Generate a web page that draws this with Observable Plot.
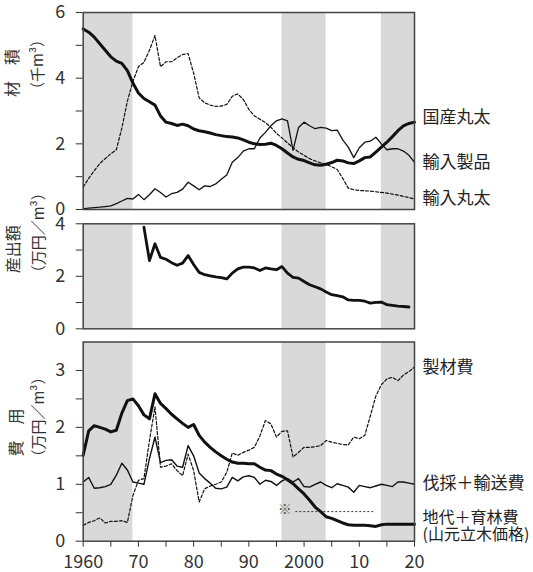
<!DOCTYPE html>
<html>
<head>
<meta charset="utf-8">
<script src="https://cdn.jsdelivr.net/npm/d3@7"></script>
<script src="https://cdn.jsdelivr.net/npm/@observablehq/plot@0.6"></script>
<style>
  body { margin: 0; background: #fff; }
  #chart { position: relative; width: 533px; height: 572px; background: #fff; }
  #chart svg { position: absolute; left: 0; }
</style>
</head>
<body>
<div id="chart"></div>
<script>
// Years 1960–2020
const years = d3.range(1960, 2021);

// 材積 (千m³): 国産丸太, 輸入丸太, 輸入製品
const domesticLogs = [
  5.50, 5.40, 5.25, 5.05, 4.85, 4.65, 4.52, 4.45, 4.23, 3.85,
  3.55, 3.38, 3.28, 3.18, 2.85, 2.66, 2.62, 2.56, 2.60, 2.55,
  2.45, 2.40, 2.37, 2.33, 2.28, 2.25, 2.22, 2.21, 2.18, 2.12,
  2.05, 2.00, 1.98, 1.99, 2.02, 1.95, 1.85, 1.72, 1.60, 1.53,
  1.49, 1.42, 1.36, 1.35, 1.38, 1.43, 1.50, 1.48, 1.42, 1.40,
  1.48, 1.58, 1.60, 1.75, 1.90, 2.05, 2.22, 2.40, 2.55, 2.62,
  2.66
];
const importedLogs = [
  0.68, 0.95, 1.18, 1.40, 1.55, 1.70, 1.82, 2.48, 3.30, 3.90,
  4.35, 4.48, 4.85, 5.30, 4.35, 4.50, 4.50, 4.62, 4.72, 4.75,
  4.15, 3.40, 3.25, 3.18, 3.14, 3.15, 3.20, 3.45, 3.52, 3.35,
  3.05, 2.85, 2.75, 2.65, 2.50, 2.32, 2.18, 2.03, 1.88, 1.75,
  1.65, 1.55, 1.48, 1.42, 1.38, 1.30, 1.22, 0.95, 0.65, 0.60,
  0.58, 0.57, 0.56, 0.54, 0.52, 0.50, 0.47, 0.44, 0.40, 0.36,
  0.32
];
const importedProducts = [
  0.02, 0.04, 0.06, 0.07, 0.09, 0.11, 0.18, 0.26, 0.34, 0.32,
  0.46, 0.30, 0.45, 0.63, 0.52, 0.38, 0.48, 0.52, 0.62, 0.83,
  0.72, 0.60, 0.72, 0.70, 0.78, 0.92, 1.05, 1.44, 1.58, 1.78,
  1.85, 1.85, 2.18, 2.35, 2.55, 2.70, 2.76, 2.70, 1.80, 2.50,
  2.66, 2.55, 2.46, 2.50, 2.48, 2.40, 2.42, 2.12, 1.90, 1.58,
  1.88, 2.05, 2.08, 2.20, 2.00, 1.82, 1.85, 1.85, 1.78, 1.65,
  1.44
];

// 産出額 (万円/m³), 1971–2019
const outputYears = d3.range(1971, 2020);
const outputValue = [
  3.87, 2.60, 3.24, 2.72, 2.65, 2.52, 2.42, 2.50, 2.79,
  2.45, 2.15, 2.06, 2.02, 1.98, 1.95, 1.90, 2.12, 2.28, 2.35,
  2.35, 2.32, 2.22, 2.32, 2.28, 2.25, 2.37, 2.12, 1.96, 1.93,
  1.80, 1.68, 1.60, 1.52, 1.40, 1.30, 1.26, 1.22, 1.10, 1.08,
  1.08, 1.05, 0.98, 1.01, 1.02, 0.92, 0.89, 0.86, 0.85, 0.83
];

// 費用 (万円/m³): 製材費, 伐採＋輸送費, 地代＋育林費
const sawingCost = [
  0.28, 0.33, 0.36, 0.41, 0.32, 0.35, 0.35, 0.36, 0.33, 0.80,
  1.07, 1.10, 1.77, 2.36, 1.30, 1.32, 1.36, 1.24, 1.15, 1.53,
  1.24, 0.69, 0.92, 0.97, 1.00, 1.04, 1.21, 1.55, 1.51, 1.56,
  1.60, 1.65, 1.85, 2.12, 2.06, 1.83, 1.93, 1.94, 1.48, 1.56,
  1.65, 1.65, 1.66, 1.68, 1.77, 1.74, 1.72, 1.70, 1.69, 1.83,
  1.80, 1.86, 2.20, 2.55, 2.75, 2.85, 2.88, 2.82, 2.92, 2.98,
  3.06
];
const loggingCost = [
  1.04, 1.12, 0.93, 0.94, 0.96, 1.00, 1.16, 1.37, 1.25, 1.04,
  1.02, 1.00, 1.45, 1.83, 1.38, 1.42, 1.43, 1.32, 1.30, 1.68,
  1.50, 1.20, 1.10, 1.02, 0.93, 0.92, 0.95, 1.12, 1.06, 1.13,
  1.15, 1.12, 1.00, 1.07, 1.05, 0.98, 1.06, 1.10, 1.04, 1.10,
  0.96, 0.95, 1.00, 1.04, 0.98, 0.94, 1.01, 0.98, 0.95, 0.86,
  0.98, 0.96, 0.94, 0.97, 1.00, 0.98, 0.96, 1.04, 1.04, 1.02,
  1.00
];
const stumpageCost = [
  1.51, 1.94, 2.03, 2.00, 1.97, 1.92, 1.95, 2.25, 2.47, 2.50,
  2.38, 2.22, 2.15, 2.59, 2.42, 2.33, 2.23, 2.15, 2.07, 2.00,
  2.05, 1.86, 1.74, 1.65, 1.57, 1.50, 1.44, 1.39, 1.37, 1.37,
  1.36, 1.36, 1.30, 1.25, 1.24, 1.18, 1.14, 1.08, 1.01, 0.92,
  0.83, 0.72, 0.60, 0.52, 0.43, 0.40, 0.36, 0.32, 0.29, 0.28,
  0.28, 0.28, 0.27, 0.26, 0.29, 0.30, 0.30, 0.30, 0.30, 0.30,
  0.30
];

// ※ reference level and its span
const noteSpan = [1998.5, 2012.6];
const noteValue = 0.52;

// Shaded periods
const bandStart = [1960, 1996, 2014];
const bandEnd = [1969, 2004, 2020];

// Axis ticks
const xTicks = d3.range(1960, 2021, 5);
const xLabelYears = [1960, 1970, 1980, 1990, 2000, 2010, 2020];
const xLabelText = ["1960", "70", "80", "90", "2000", "10", "20"];

const rows = years.map((year, i) => ({
  year,
  domesticLogs: domesticLogs[i],
  importedLogs: importedLogs[i],
  importedProducts: importedProducts[i],
  sawingCost: sawingCost[i],
  loggingCost: loggingCost[i],
  stumpageCost: stumpageCost[i]
}));
const outputRows = outputYears.map((year, i) => ({year, value: outputValue[i]}));
const bands = bandStart.map((s, i) => ({start: s, end: bandEnd[i]}));
const note = [{x1: noteSpan[0], x2: noteSpan[1], y: noteValue}];

const FONT = "'Noto Sans CJK JP', 'Noto Sans', sans-serif";
const INK = "#111";
const chart = document.getElementById("chart");

function xScale(showAxis) {
  const x = {domain: [1960, 2020], label: null};
  if (!showAxis) return {...x, axis: null};
  return {
    ...x,
    ticks: xTicks,
    tickSize: 6,
    tickPadding: 8,
    tickFormat: d => {
      const k = xLabelYears.indexOf(d);
      return k >= 0 ? xLabelText[k] : "";
    }
  };
}

function yScale(domain, ticks, labeled) {
  return {
    domain,
    ticks,
    tickSize: 7,
    tickPadding: 11,
    label: null,
    tickFormat: d => (labeled.includes(d) ? String(d) : "")
  };
}

function bandMark(domain) {
  return Plot.rect(bands, {
    x1: "start", x2: "end",
    y1: () => domain[0], y2: () => domain[1],
    fill: "#d9d9d9"
  });
}

function titleMarks(lines) {
  return lines.map(t => Plot.text([t.text], {
    frameAnchor: "left", rotate: -90,
    dx: t.dx, dy: t.dy, fontSize: t.size, fill: "#333"
  }));
}

function endLabel(data, key, text, dy, size = 17) {
  return Plot.text(data, Plot.selectLast({
    x: "year", y: key, text: () => text,
    textAnchor: "start", dx: 8, dy, fontSize: size, fill: "#222"
  }));
}

function place(svg, top) {
  svg.style.top = top + "px";
  chart.appendChild(svg);
}

const baseStyle = {fontFamily: FONT, fontSize: "18px", color: "#333", background: "transparent", overflow: "visible"};

// Panel 1: 材積
const d1 = [0, 6];
place(Plot.plot({
  width: 533, height: 215,
  marginLeft: 82.7, marginRight: 119, marginTop: 12, marginBottom: 6,
  style: baseStyle,
  x: xScale(false),
  y: yScale(d1, [0, 1, 2, 3, 4, 5, 6], [0, 2, 4, 6]),
  marks: [
    bandMark(d1),
    Plot.line(rows, {x: "year", y: "importedLogs", stroke: INK, strokeWidth: 1.2, strokeDasharray: "3,2"}),
    Plot.line(rows, {x: "year", y: "importedProducts", stroke: INK, strokeWidth: 1.3}),
    Plot.line(rows, {x: "year", y: "domesticLogs", stroke: INK, strokeWidth: 3}),
    Plot.frame({stroke: "#444", strokeWidth: 1.5}),
    endLabel(rows, "domesticLogs", "国産丸太", -5),
    endLabel(rows, "importedProducts", "輸入製品", 0),
    endLabel(rows, "importedLogs", "輸入丸太", 0),
    ...titleMarks([
      {text: "材　積", dx: -70, dy: -14, size: 16},
      {text: "（千m³）", dx: -45, dy: -14, size: 15}
    ])
  ]
}), 0);

// Panel 2: 産出額
const d2 = [0, 4];
place(Plot.plot({
  width: 533, height: 120,
  marginLeft: 82.7, marginRight: 119, marginTop: 8.3, marginBottom: 6.7,
  style: baseStyle,
  x: xScale(false),
  y: yScale(d2, [0, 1, 2, 3, 4], [0, 2, 4]),
  marks: [
    bandMark(d2),
    Plot.line(outputRows, {x: "year", y: "value", stroke: INK, strokeWidth: 2.8}),
    Plot.frame({stroke: "#444", strokeWidth: 1.5}),
    ...titleMarks([
      {text: "産出額", dx: -69, dy: -3, size: 16},
      {text: "（万円／m³）", dx: -44, dy: 4, size: 15}
    ])
  ]
}), 215);

// Panel 3: 費用
const d3dom = [0, 3.5];
place(Plot.plot({
  width: 533, height: 237,
  marginLeft: 82.7, marginRight: 119, marginTop: 6.5, marginBottom: 31.3,
  style: baseStyle,
  x: xScale(true),
  y: yScale(d3dom, [0, 0.5, 1, 1.5, 2, 2.5, 3], [0, 1, 2, 3]),
  marks: [
    bandMark(d3dom),
    Plot.ruleY(note, {x1: "x1", x2: "x2", y: "y", stroke: "#333", strokeWidth: 1, strokeDasharray: "2,2"}),
    Plot.text(note, {x: "x1", y: "y", text: () => "※", textAnchor: "end", dx: -4, dy: -2, fontSize: 14, fill: "#555"}),
    Plot.line(rows, {x: "year", y: "sawingCost", stroke: INK, strokeWidth: 1.2, strokeDasharray: "3,2"}),
    Plot.line(rows, {x: "year", y: "loggingCost", stroke: INK, strokeWidth: 1.4}),
    Plot.line(rows, {x: "year", y: "stumpageCost", stroke: INK, strokeWidth: 3}),
    Plot.frame({stroke: "#444", strokeWidth: 1.5}),
    endLabel(rows, "sawingCost", "製材費", 1),
    endLabel(rows, "loggingCost", "伐採＋輸送費", -1),
    endLabel(rows, "stumpageCost", "地代＋育林費", -6, 16),
    endLabel(rows, "stumpageCost", "(山元立木価格)", 11, 16),
    ...titleMarks([
      {text: "費　用", dx: -66, dy: 15, size: 16},
      {text: "（万円／m³）", dx: -44, dy: 23, size: 15}
    ])
  ]
}), 335);
</script>
</body>
</html>
